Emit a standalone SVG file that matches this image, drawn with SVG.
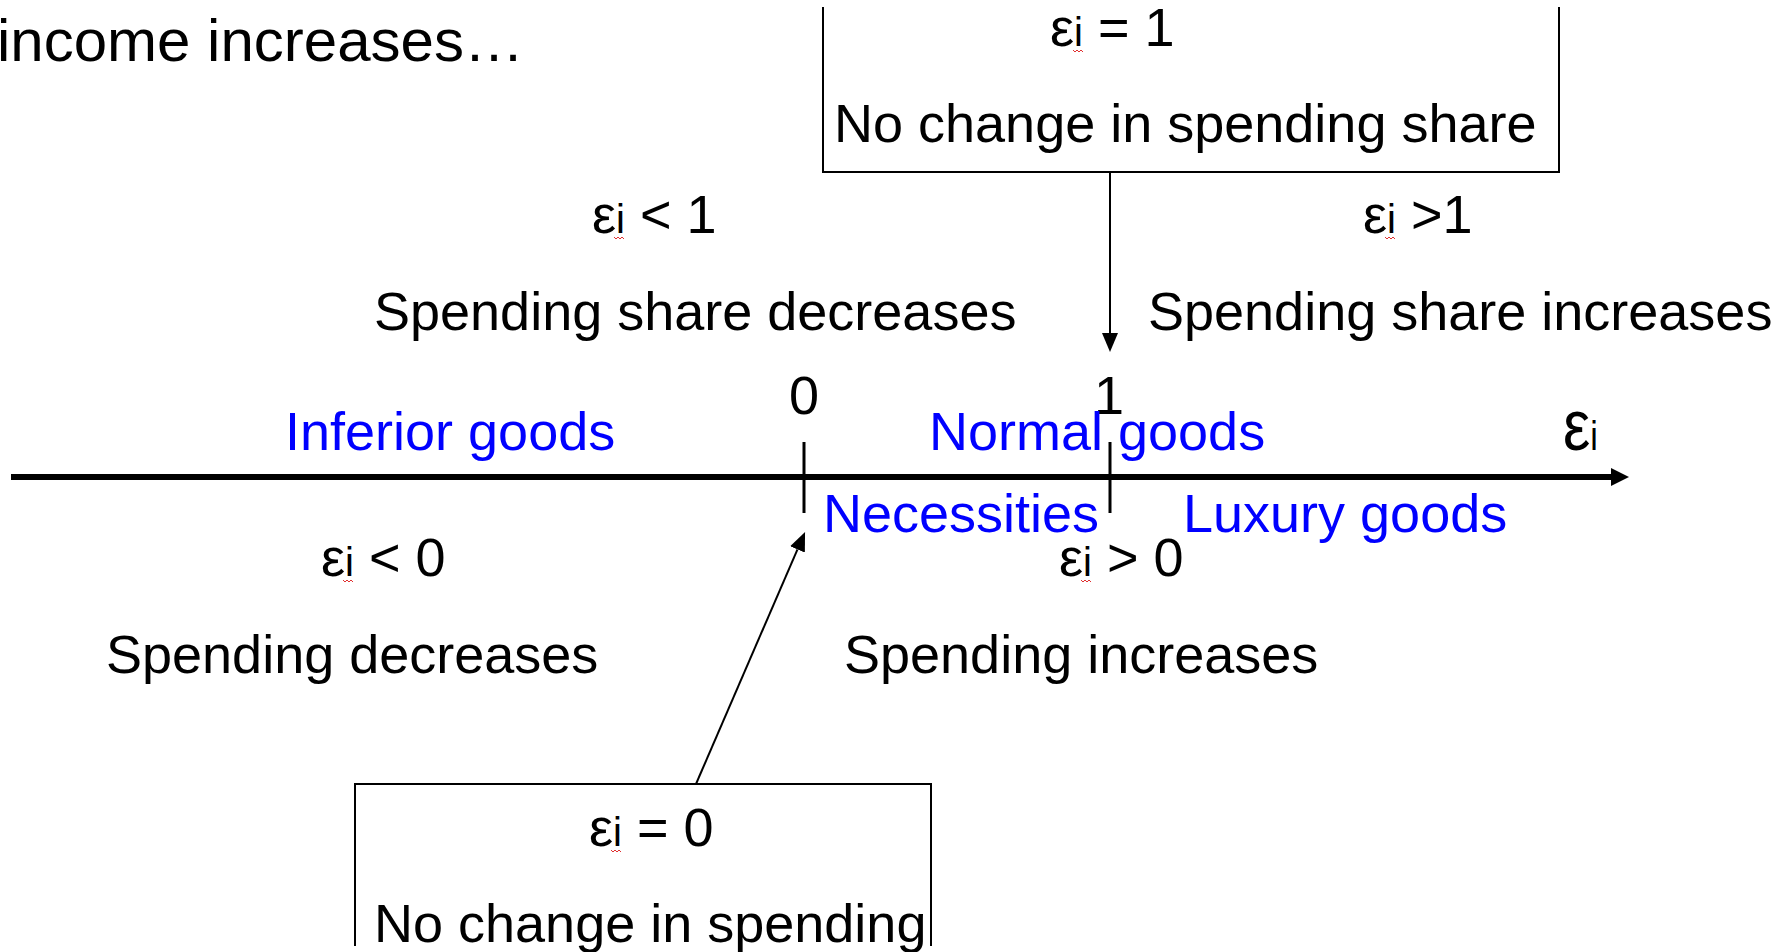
<svg xmlns="http://www.w3.org/2000/svg" width="1791" height="952" viewBox="0 0 1791 952">
<style>
  text { font-family: "Liberation Sans", Arial, sans-serif; font-size: 54px; fill: #000; }
  .blue { fill: #0000ff; }
  .sub { font-size: 40px; }
  .box { fill: none; stroke: #000; stroke-width: 2; }
  .conn { stroke: #000; stroke-width: 2; fill: none; }
  .axis { stroke: #000; stroke-width: 6; }
  .tick { stroke: #000; stroke-width: 3; }
  .squig { fill: none; stroke: #e03030; stroke-width: 1; }
</style>
<defs>
  <marker id="head" viewBox="0 0 19 16" refX="0" refY="8" markerWidth="19" markerHeight="16" markerUnits="userSpaceOnUse" orient="auto">
    <path d="M0,0 L19,8 L0,16 z" fill="#000"/>
  </marker>
  <marker id="axisHead" viewBox="0 0 18 18" refX="1" refY="9" markerWidth="18" markerHeight="18" markerUnits="userSpaceOnUse" orient="auto">
    <path d="M0,0 L18,9 L0,18 z" fill="#000"/>
  </marker>
</defs>

<g id="title">
  <text x="-3" y="61" style="font-size:60px">income increases…</text>
</g>

<g id="axis">
  <line class="axis" x1="11" y1="477" x2="1612" y2="477" marker-end="url(#axisHead)"/>
  <line class="tick" x1="804" y1="442" x2="804" y2="513"/>
  <line class="tick" x1="1110" y1="442" x2="1110" y2="513"/>
  <text x="804" y="414" text-anchor="middle">0</text>
  <text x="1094" y="414">1</text>
  <text transform="translate(1563 450) scale(0.85 1)" x="0" y="0" style="font-size:72px">ε<tspan style="font-size:40px">i</tspan></text>
</g>

<g id="box-eps1">
  <path class="box" d="M823,7 V172 H1559 V7"/>
  <text x="1050" y="46">ε<tspan class="sub">i</tspan> = 1</text>
  <path class="squig" d="M1073,50 l2,2 l2,-2 l2,2 l2,-2 l2,2"/>
  <text x="834" y="142">No change in spending share</text>
</g>

<g id="label-lt1">
  <text x="592" y="233">ε<tspan class="sub">i</tspan> &lt; 1</text>
  <path class="squig" d="M614,237 l2,2 l2,-2 l2,2 l2,-2 l2,2"/>
  <text x="374" y="330">Spending share decreases</text>
</g>

<g id="label-gt1">
  <text x="1363" y="233">ε<tspan class="sub">i</tspan> &gt;1</text>
  <path class="squig" d="M1385,237 l2,2 l2,-2 l2,2 l2,-2 l2,2"/>
  <text x="1148" y="330">Spending share increases</text>
</g>

<g id="inferior">
  <text class="blue" x="285" y="450">Inferior goods</text>
</g>
<g id="normal">
  <text class="blue" x="929" y="450">Normal goods</text>
</g>
<g id="necessities">
  <text class="blue" x="823" y="532">Necessities</text>
</g>
<g id="luxury">
  <text class="blue" x="1183" y="532">Luxury goods</text>
</g>

<g id="label-lt0">
  <text x="321" y="576">ε<tspan class="sub">i</tspan> &lt; 0</text>
  <path class="squig" d="M343,580 l2,2 l2,-2 l2,2 l2,-2 l2,2"/>
  <text x="106" y="673">Spending decreases</text>
</g>

<g id="label-gt0">
  <text x="1059" y="576">ε<tspan class="sub">i</tspan> &gt; 0</text>
  <path class="squig" d="M1081,580 l2,2 l2,-2 l2,2 l2,-2 l2,2"/>
  <text x="844" y="673">Spending increases</text>
</g>

<g id="box-eps0">
  <path class="box" d="M355,946 V784 H931 V946"/>
  <text x="589" y="846">ε<tspan class="sub">i</tspan> = 0</text>
  <path class="squig" d="M611,850 l2,2 l2,-2 l2,2 l2,-2 l2,2"/>
  <text x="374" y="942">No change in spending</text>
</g>

<g id="connectors">
  <line class="conn" x1="1110" y1="172" x2="1110" y2="333" marker-end="url(#head)"/>
  <line class="conn" x1="696" y1="784" x2="797.5" y2="549.4" marker-end="url(#head)"/>
</g>
</svg>
